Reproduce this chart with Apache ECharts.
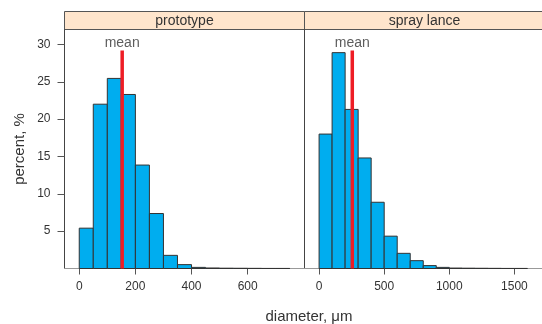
<!DOCTYPE html>
<html>
<head>
<meta charset="utf-8">
<script src="https://cdn.jsdelivr.net/npm/echarts@6/dist/echarts.min.js"></script>
<style>
  html, body { margin: 0; padding: 0; background: #fff; }
  #chart { width: 542px; height: 324px; }
</style>
</head>
<body>
<div id="chart"></div>
<script>
// bin edges and percentages
const protoEdges = [0, 50, 100, 150, 200, 250, 300, 350, 400, 450, 500, 550, 600, 650, 700, 750];
const protoPct = [5.4, 22.0, 25.45, 23.3, 13.85, 7.36, 1.76, 0.52, 0.15, 0.07, 0.04, 0.03, 0.02, 0.01, 0.01];
const sprayEdges = [0, 100, 200, 300, 400, 500, 600, 700, 800, 900, 1000, 1100, 1200, 1300, 1400, 1500, 1600];
const sprayPct = [18.0, 28.9, 21.3, 14.8, 8.87, 4.33, 2.03, 1.05, 0.39, 0.15, 0.06, 0.04, 0.03, 0.02, 0.01, 0.01];
const protoMean = 153;
const sprayMean = 255;
const meanTop = 29.2;

const panels = ["prototype", "spray lance"];
const protoTicks = [0, 200, 400, 600];
const sprayTicks = [0, 500, 1000, 1500];
const pctTicks = [5, 10, 15, 20, 25, 30];

const FONT = '"Liberation Sans", Arial, sans-serif';
const TEXT = "#333";

function toBins(edges, pct) {
  return pct.map((v, i) => [edges[i], edges[i + 1], v]);
}

function histItem(params, api) {
  const p0 = api.coord([api.value(0), api.value(2)]);
  const p1 = api.coord([api.value(1), 0]);
  return {
    type: "rect",
    shape: { x: p0[0], y: p0[1], width: p1[0] - p0[0], height: p1[1] - p0[1] },
    style: { fill: "#00ADEF", stroke: "#333", lineWidth: 1 },
  };
}

const chart = echarts.init(document.getElementById("chart"));

const gridTop = 29.5;
const gridH = 239;
const panelW = 240;
const lefts = [64.5, 304.5];

function xAxisFor(i, min, max, ticks) {
  return {
    type: "value",
    gridIndex: i,
    min: min,
    max: max,
    splitLine: { show: false },
    axisLine: { show: true, onZero: false, lineStyle: { color: "#999", width: 1 } },
    axisTick: { show: true, length: 6, customValues: ticks, lineStyle: { color: "#555" } },
    axisLabel: {
      customValues: ticks,
      formatter: (v) => String(v),
      margin: 12,
      color: TEXT,
      fontSize: 12,
      fontFamily: FONT,
    },
  };
}

function yAxisFor(i, withLabels) {
  return {
    type: "value",
    gridIndex: i,
    min: 0,
    max: 32,
    splitLine: { show: false },
    axisLine: { show: true, onZero: false, lineStyle: { color: "#444", width: 1 } },
    axisTick: { show: withLabels, length: 7, customValues: pctTicks, lineStyle: { color: "#555" } },
    axisLabel: {
      show: withLabels,
      customValues: pctTicks,
      margin: 14,
      color: TEXT,
      fontSize: 12,
      fontFamily: FONT,
    },
  };
}

const option = {
  animation: false,
  grid: lefts.map((l) => ({ left: l, top: gridTop, width: panelW, height: gridH })),
  xAxis: [
    xAxisFor(0, -52.5, 802.5, protoTicks),
    xAxisFor(1, -112, 1712, sprayTicks),
  ],
  yAxis: [
    Object.assign(yAxisFor(0, true), {
      name: "percent, %",
      nameLocation: "middle",
      nameGap: 37,
      nameTextStyle: { color: TEXT, fontSize: 15, fontFamily: FONT },
    }),
    yAxisFor(1, false),
  ],
  graphic: [
    ...panels.map((name, i) => ({
      type: "group",
      children: [
        {
          type: "rect",
          shape: { x: lefts[i], y: 11.5, width: panelW, height: 18 },
          style: { fill: "#FFE5CC", stroke: "#555", lineWidth: 1 },
        },
        {
          type: "text",
          x: lefts[i] + panelW / 2,
          y: 21,
          style: {
            text: name,
            fill: TEXT,
            font: "14px " + FONT,
            textAlign: "center",
            textVerticalAlign: "middle",
          },
        },
      ],
    })),
    {
      type: "text",
      x: 309,
      y: 317,
      style: {
        text: "diameter, \u03bcm",
        fill: TEXT,
        font: "15px " + FONT,
        textAlign: "center",
        textVerticalAlign: "middle",
      },
    },
  ],
  series: [
    {
      type: "custom",
      xAxisIndex: 0,
      yAxisIndex: 0,
      renderItem: histItem,
      encode: { x: [0, 1], y: 2 },
      data: toBins(protoEdges, protoPct),
      z: 2,
    },
    {
      type: "custom",
      xAxisIndex: 1,
      yAxisIndex: 1,
      renderItem: histItem,
      encode: { x: [0, 1], y: 2 },
      data: toBins(sprayEdges, sprayPct),
      z: 2,
    },
  ],
};

// mean marker: red line plus "mean" text above it
[[0, protoMean], [1, sprayMean]].forEach(([i, m]) => {
  option.series.push({
    type: "line",
    xAxisIndex: i,
    yAxisIndex: i,
    data: [[m, 0], [m, meanTop]],
    symbol: "none",
    lineStyle: { color: "#EE1D25", width: 3.5, cap: "butt" },
    z: 3,
  });
  option.series.push({
    type: "scatter",
    xAxisIndex: i,
    yAxisIndex: i,
    data: [[m, meanTop]],
    symbolSize: 0,
    label: {
      show: true,
      position: "top",
      distance: 0,
      formatter: "mean",
      color: TEXT,
      fontSize: 14,
      fontFamily: FONT,
    },
    z: 4,
  });
});

chart.setOption(option);
</script>
</body>
</html>
